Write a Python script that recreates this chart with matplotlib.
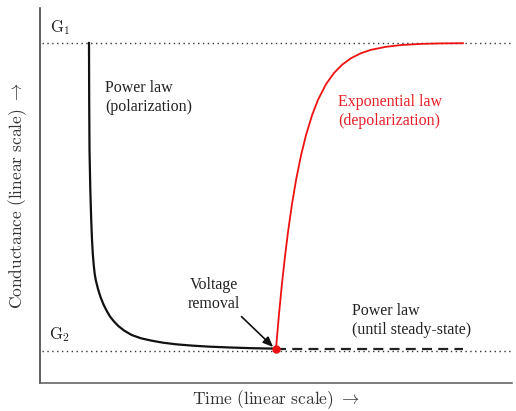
import matplotlib
matplotlib.use("Agg")
import matplotlib.pyplot as plt

plt.rcParams['mathtext.fontset'] = 'cm'

# Levels (conductance, arbitrary linear units)
G1 = 90.7
G2 = 8.5

# Power law (polarization) curve
pol_t = [10.38, 10.42, 10.49, 10.66, 10.85, 11.02, 11.19, 11.38, 11.59, 11.86,
         12.29, 12.82, 13.41, 14.09, 14.83, 15.68, 16.59, 17.80, 19.43, 21.40,
         23.67, 26.06, 28.81, 32.20, 36.02, 40.25, 44.92, 49.79]
pol_g = [90.67, 75.47, 62.13, 51.47, 43.47, 38.13, 34.40, 31.47, 29.07, 27.20,
         25.07, 22.93, 21.07, 19.33, 17.73, 16.40, 15.20, 14.00, 12.80, 11.92,
         11.28, 10.75, 10.32, 9.97, 9.68, 9.47, 9.28, 9.17]

# Exponential law (depolarization) curve
dep_t = [50.0, 50.64, 51.27, 51.91, 52.54, 53.39, 54.24, 55.30, 56.36, 57.63,
         58.90, 60.59, 62.29, 63.98, 65.89, 68.01, 70.13, 73.31, 76.48, 80.72,
         84.96, 89.62]
dep_g = [9.2, 18.43, 26.56, 33.81, 40.24, 47.73, 54.08, 60.69, 66.13, 71.36,
         75.52, 79.68, 82.67, 84.85, 86.61, 87.95, 88.85, 89.65, 90.12, 90.43,
         90.56, 90.61]

# Power law continuation (until steady state)
ss_t = [50.0, 89.6]
ss_g = [9.1, 9.1]

# Voltage removal point
vr_t = 50.0
vr_g = 9.15

fig = plt.figure(figsize=(5.16, 4.11), dpi=100)
ax = fig.add_axes([40 / 516, 28 / 411, 472 / 516, 375 / 411])
ax.set_xlim(0, 100)
ax.set_ylim(0, 100)

# Reference levels
ax.plot([0.5, 100], [G1, G1], color='#333333', lw=1.0, linestyle=(0, (1, 2.5)))
ax.plot([0.5, 100], [G2, G2], color='#333333', lw=1.0, linestyle=(0, (1, 2.5)))

ax.plot(ss_t, ss_g, color='#222222', lw=1.6, linestyle=(0, (4.5, 2.8)))
ax.plot(pol_t, pol_g, color='#111111', lw=1.6, solid_joinstyle='round')
ax.plot(dep_t, dep_g, color='#ee1111', lw=1.3, solid_joinstyle='round')
ax.plot([vr_t], [vr_g], 'o', color='#ee1111', markersize=5, zorder=5)

tf = dict(family='Liberation Serif', fontsize=11.5, color='#222222')
ax.text(4.2, 94.9, r'$\mathrm{G}_1$', fontsize=12, ha='center', va='center', color='#222222')
ax.text(4.2, 12.8, r'$\mathrm{G}_2$', fontsize=12, ha='center', va='center', color='#222222')
ax.text(13.8, 76.1, 'Power law\n(polarization)', ha='left', va='center', linespacing=1.25, **tf)
ax.text(63.1, 72.5, 'Exponential law\n(depolarization)', ha='left', va='center',
        linespacing=1.25, family='Liberation Serif', fontsize=11.5, color='#e8202a')
ax.text(36.9, 23.5, 'Voltage\nremoval', ha='center', va='center', linespacing=1.25, **tf)
ax.text(66.1, 16.8, 'Power law\n(until steady-state)', ha='left', va='center', linespacing=1.25, **tf)

ax.annotate('', xy=(49.4, 9.6), xytext=(42.7, 17.7),
            arrowprops=dict(arrowstyle='-|>,head_length=0.6,head_width=0.25',
                            color='#111111', lw=1.2, shrinkA=0, shrinkB=0))

for s in ['top', 'right']:
    ax.spines[s].set_visible(False)
ax.spines['left'].set_color('#444444')
ax.spines['bottom'].set_color('#666666')
for s in ['left', 'bottom']:
    ax.spines[s].set_linewidth(1.2)
ax.set_xticks([])
ax.set_yticks([])

ax.set_xlabel(r'$\mathrm{Time\ (linear\ scale)}\ \rightarrow$', fontsize=12.5, color='#333333', labelpad=4)
ax.set_ylabel(r'$\mathrm{Conductance\ (linear\ scale)}\ \rightarrow$', fontsize=12.5, color='#333333', labelpad=8)

fig.savefig('out.png', dpi=100)
